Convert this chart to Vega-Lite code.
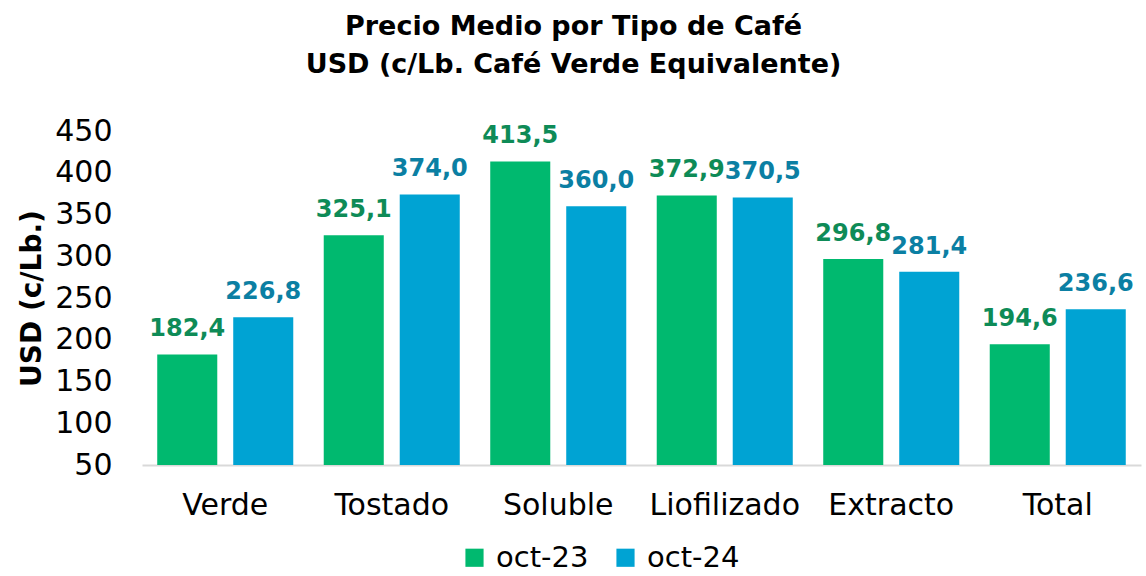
{
  "$schema": "https://vega.github.io/schema/vega-lite/v6.json",
  "width": 999,
  "height": 334,
  "autosize": "none",
  "padding": {"left": 142, "top": 131, "right": 5, "bottom": 111},
  "background": "white",
  "title": {
    "text": ["Precio Medio por Tipo de Café", "USD (c/Lb. Café Verde Equivalente)"],
    "font": "DejaVu Sans",
    "fontSize": 27,
    "fontWeight": "bold",
    "color": "#000000",
    "anchor": "middle",
    "dx": -68,
    "lineHeight": 38,
    "offset": 37
  },
  "config": {
    "view": {"stroke": null},
    "locale": {"number": {"decimal": ",", "thousands": ".", "grouping": [3], "currency": ["$", ""]}}
  },
  "data": {
    "values": [
      {"tipo": "Verde", "periodo": "oct-23", "valor": 182.4},
      {"tipo": "Verde", "periodo": "oct-24", "valor": 226.8},
      {"tipo": "Tostado", "periodo": "oct-23", "valor": 325.1},
      {"tipo": "Tostado", "periodo": "oct-24", "valor": 374.0},
      {"tipo": "Soluble", "periodo": "oct-23", "valor": 413.5},
      {"tipo": "Soluble", "periodo": "oct-24", "valor": 360.0},
      {"tipo": "Liofilizado", "periodo": "oct-23", "valor": 372.9},
      {"tipo": "Liofilizado", "periodo": "oct-24", "valor": 370.5},
      {"tipo": "Extracto", "periodo": "oct-23", "valor": 296.8},
      {"tipo": "Extracto", "periodo": "oct-24", "valor": 281.4},
      {"tipo": "Total", "periodo": "oct-23", "valor": 194.6},
      {"tipo": "Total", "periodo": "oct-24", "valor": 236.6}
    ]
  },
  "encoding": {
    "x": {
      "field": "tipo",
      "type": "nominal",
      "sort": null,
      "scale": {"paddingInner": 0.183, "paddingOuter": 0.0915},
      "axis": {
        "title": null,
        "labelAngle": 0,
        "labelFont": "DejaVu Sans",
        "labelFontSize": 30,
        "labelColor": "#000000",
        "labelPadding": 25,
        "ticks": false,
        "domainColor": "#d9d9d9",
        "domainWidth": 2
      }
    },
    "xOffset": {
      "field": "periodo",
      "type": "nominal",
      "scale": {"paddingInner": 0.21, "paddingOuter": 0}
    },
    "y": {
      "field": "valor",
      "type": "quantitative",
      "scale": {"domain": [50, 450], "nice": false, "zero": false},
      "axis": {
        "title": "USD (c/Lb.)",
        "titleFont": "DejaVu Sans",
        "titleFontSize": 28,
        "titleFontWeight": "bold",
        "titleColor": "#000000",
        "titlePadding": 8,
        "values": [50, 100, 150, 200, 250, 300, 350, 400, 450],
        "labelFont": "DejaVu Sans",
        "labelFontSize": 30,
        "labelColor": "#000000",
        "labelPadding": 30,
        "ticks": false,
        "domain": false,
        "grid": false
      }
    }
  },
  "layer": [
    {
      "mark": {"type": "bar", "clip": true},
      "encoding": {
        "y2": {"datum": 50},
        "color": {
          "field": "periodo",
          "type": "nominal",
          "scale": {"domain": ["oct-23", "oct-24"], "range": ["#00B96F", "#00A3D3"]},
          "legend": {
            "title": null,
            "orient": "none",
            "direction": "horizontal",
            "legendX": 318,
            "legendY": 412,
            "symbolType": "square",
            "symbolSize": 330,
            "symbolStrokeWidth": 0,
            "labelFont": "DejaVu Sans",
            "labelFontSize": 29,
            "labelColor": "#000000",
            "labelOffset": 7,
            "columnPadding": 22
          }
        }
      }
    },
    {
      "mark": {"type": "text", "baseline": "bottom", "dy": -13, "font": "DejaVu Sans", "fontSize": 24, "fontWeight": "bold"},
      "encoding": {
        "text": {"field": "valor", "type": "quantitative", "format": ".1f"},
        "color": {
          "field": "periodo",
          "type": "nominal",
          "scale": {"domain": ["oct-23", "oct-24"], "range": ["#0E8B57", "#0B7FA3"]},
          "legend": null
        }
      }
    }
  ],
  "resolve": {"scale": {"color": "independent"}}
}
